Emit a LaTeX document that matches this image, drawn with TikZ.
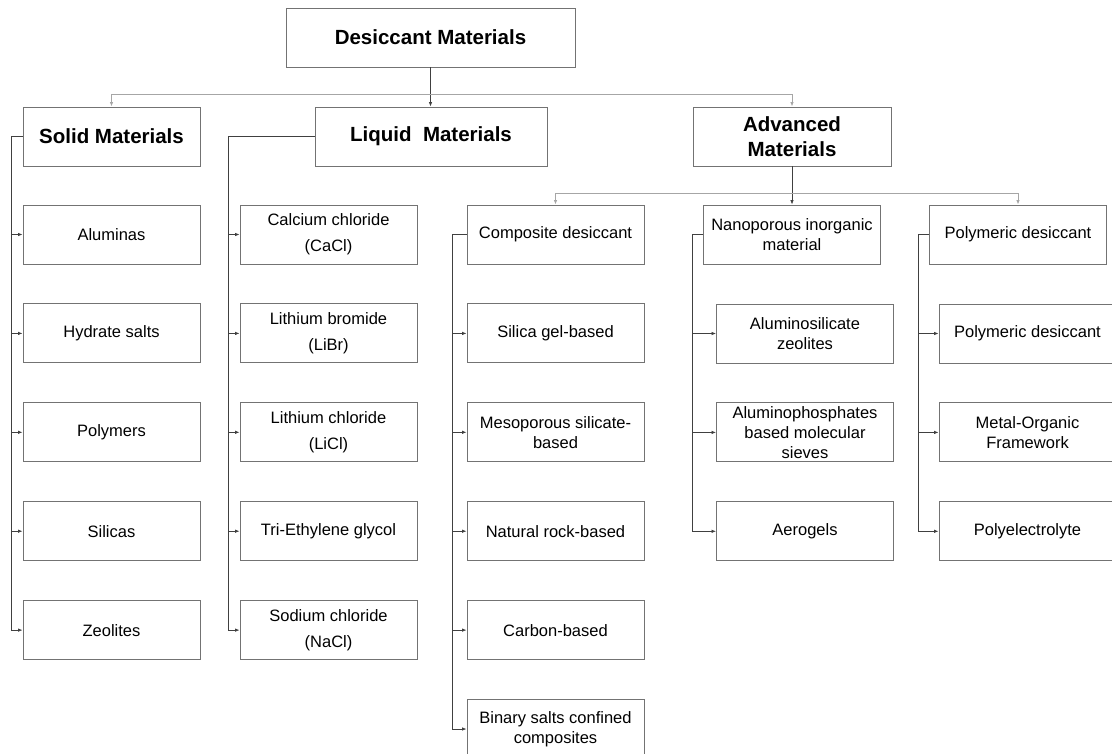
\documentclass[tikz,border=0pt]{standalone}
\usepackage{fontspec}
\setmainfont{Liberation Sans}
\usetikzlibrary{arrows.meta, positioning}

\begin{document}
\begin{tikzpicture}[x=1pt, y=1pt, node distance=39pt, >={Latex[length=4.5pt,width=3.5pt]},
    head/.style={rectangle, draw=black!55, line width=0.9pt, align=center, minimum height=59pt, inner sep=2pt, font=\fontsize{20.5}{25}\selectfont\bfseries},
    item/.style={rectangle, draw=black!55, line width=0.9pt, align=center, minimum width=177pt, minimum height=59pt, inner sep=2pt, font=\fontsize{16.5}{20}\selectfont},
    link/.style={draw=black!75, line width=0.7pt},
    bar/.style={draw=black!35, line width=0.9pt}]

    \useasboundingbox (0,0) rectangle (1112,-753);

    % Top node
    \node[head, minimum width=289pt] (desc) at (430.5,-37.5) {Desiccant Materials};

    % Main groups
    \node[head, minimum width=177pt] (solid) at (111.5,-136.5) {Solid Materials};
    \node[head, minimum width=232pt] (liquid) at (431,-136.5) {Liquid~~Materials};
    \node[head, minimum width=198pt] (adv) at (792,-136.5) {Advanced\\Materials};

    % Solid materials
    \node[item] (s1) at (111.5,-234.5) {Aluminas};
    \node[item, below=of s1] (s2) {Hydrate salts};
    \node[item, below=of s2] (s3) {Polymers};
    \node[item, below=of s3] (s4) {Silicas};
    \node[item, below=of s4] (s5) {Zeolites};

    % Liquid materials
    \node[item] (l1) at (328.5,-234.5) {Calcium chloride\\[6pt](CaCl)};
    \node[item, below=of l1] (l2) {Lithium bromide\\[6pt](LiBr)};
    \node[item, below=of l2] (l3) {Lithium chloride\\[6pt](LiCl)};
    \node[item, below=of l3] (l4) {Tri-Ethylene glycol};
    \node[item, below=of l4] (l5) {Sodium chloride\\[6pt](NaCl)};

    % Advanced materials
    \node[item] (comp) at (555.5,-234.5) {Composite desiccant};
    \node[item] (nano) at (792,-234.5) {Nanoporous inorganic\\material};
    \node[item] (poly) at (1018,-234.5) {Polymeric desiccant};

    % Composite desiccants
    \node[item, below=of comp] (c1) {Silica gel-based};
    \node[item, below=of c1] (c2) {Mesoporous silicate-\\based};
    \node[item, below=of c2] (c3) {Natural rock-based};
    \node[item, below=of c3] (c4) {Carbon-based};
    \node[item, below=of c4] (c5) {Binary salts confined\\composites};

    % Nanoporous inorganic
    \node[item] (n1) at (805,-333.5) {Aluminosilicate\\zeolites};
    \node[item, below=of n1] (n2) {Aluminophosphates\\based molecular\\sieves};
    \node[item, below=of n2] (n3) {Aerogels};

    % Polymeric
    \node[item] (p1) at (1027.5,-333.5) {Polymeric desiccant};
    \node[item, below=of p1] (p2) {Metal-Organic\\Framework};
    \node[item, below=of p2] (p3) {Polyelectrolyte};

    % Arrows from the top
    \coordinate (topbar) at (431,-94);
    \draw[link,->] (desc.south) -- (desc.south |- liquid.north);
    \draw[bar,->] (topbar) -| (solid);
    \draw[bar,->] (topbar) -| (adv);

    \coordinate (advbar) at (792,-193);
    \draw[link,->] (adv) -- (nano);
    \draw[bar,->] (advbar) -| (comp);
    \draw[bar,->] (advbar) -| (poly);

    % Branches
    \foreach \n in {s1,s2,s3,s4,s5}
        \draw[link,->] (solid.west) -- ++(-11,0) |- (\n.west);
    \foreach \n in {l1,l2,l3,l4,l5}
        \draw[link,->] (liquid.west) -- ++(-86,0) |- (\n.west);
    \foreach \n in {c1,c2,c3,c4,c5}
        \draw[link,->] (comp.west) -- ++(-14,0) |- (\n.west);
    \foreach \n in {n1,n2,n3}
        \draw[link,->] (nano.west) -- ++(-11,0) |- (\n.west);
    \foreach \n in {p1,p2,p3}
        \draw[link,->] (poly.west) -- ++(-11,0) |- (\n.west);

\end{tikzpicture}
\end{document}
